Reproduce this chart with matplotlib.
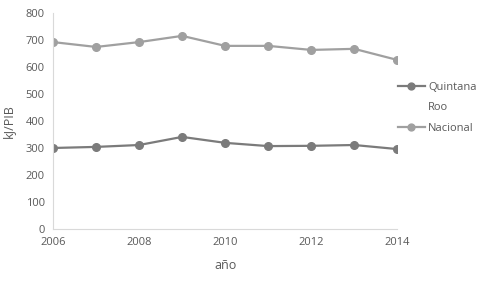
import matplotlib
matplotlib.use("Agg")
import matplotlib.pyplot as plt
from matplotlib.lines import Line2D

years = [2006, 2007, 2008, 2009, 2010, 2011, 2012, 2013, 2014]
quintana_roo = [300, 304, 311, 341, 319, 307, 308, 311, 296]
nacional = [692, 674, 692, 715, 678, 678, 663, 667, 626]

plt.rcParams['font.family'] = ['Open Sans', 'DejaVu Sans']
text_col = '#595959'

fig = plt.figure(figsize=(4.78, 2.87), dpi=100)
ax = fig.add_axes([0.111, 0.202, 0.72, 0.753])

l1, = ax.plot(years, quintana_roo, color='#7b7b7b', lw=1.6, marker='o', ms=5.5, label='Quintana')
l2, = ax.plot(years, nacional, color='#a0a0a0', lw=1.6, marker='o', ms=5.5, label='Nacional')

ax.set_xlim(2006, 2014)
ax.set_ylim(0, 800)
ax.set_xticks([2006, 2008, 2010, 2012, 2014])
ax.set_yticks(range(0, 801, 100))
for s in ['top', 'right']:
    ax.spines[s].set_visible(False)
for s in ['left', 'bottom']:
    ax.spines[s].set_color('#d9d9d9')
ax.tick_params(length=0, labelsize=8, colors=text_col, pad=6)
ax.set_xlabel('año', fontsize=9, color=text_col, labelpad=8)
ax.set_ylabel('kJ/PIB', fontsize=9, color=text_col, labelpad=8)

# blank handle so "Roo" sits on its own row below "Quintana"
blank = Line2D([], [], linestyle='none', marker='none')
fig.legend(handles=[l1, blank, l2], labels=['Quintana', 'Roo', 'Nacional'],
           loc='center left', bbox_to_anchor=(0.812, 0.624),
           frameon=False, fontsize=8, labelcolor=text_col, handlelength=2.4,
           handletextpad=0.3, labelspacing=0.85, markerscale=0.9)

fig.savefig('out.png', dpi=100)
